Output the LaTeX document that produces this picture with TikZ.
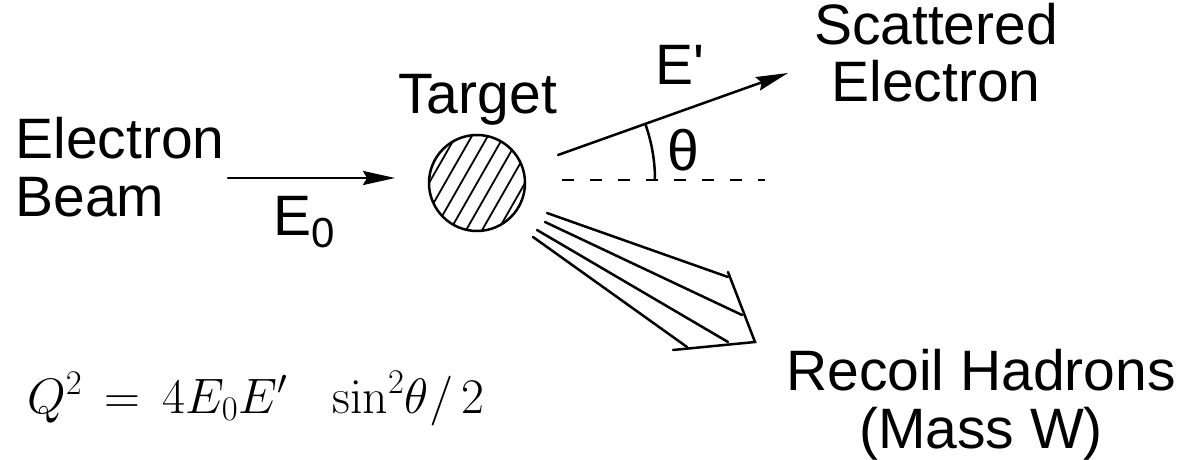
\documentclass[tikz,border=0pt]{standalone}
\usepackage[no-math]{fontspec}
\usepackage{amsmath}
\newfontfamily\disfont{Liberation Sans}
\usetikzlibrary{arrows.meta}
\tikzset{
  dislbl/.style={font=\disfont\fontsize{28.5}{28.8}\selectfont,inner sep=0pt,align=center},
  disline/.style={line width=1.25pt,line cap=round},
  disflow/.style={disline,-{Stealth[length=16pt,width=7pt,inset=2pt]}},
  disdash/.style={line width=1.25pt,dash pattern=on 6pt off 8pt},
  dishatch/.style={line width=0.9pt},
}

\begin{document}
\begin{tikzpicture}[x=0.5pt,y=-0.5pt]
  \useasboundingbox[fill=white] (0,0) rectangle (1183,460);

  % labels (multi-line nodes sit on the baseline of their last line)
  \node[dislbl,align=left,anchor=base west] (beamlbl) at (15,216) {Electron\\Beam};
  \node[dislbl,anchor=base west] (E0) at (273,235) {E\raisebox{-6pt}{\fontsize{21}{21}\selectfont 0}};
  \node[dislbl,anchor=base west] (tgtlbl) at (398,113) {Target};
  \node[dislbl,anchor=base west] (Ep) at (655,85) {E'};
  \node[dislbl] (theta) at (683,150) {θ};
  \node[dislbl,anchor=base] (scatlbl) at (936,102) {Scattered\\Electron};
  \node[dislbl,anchor=base] (hadlbl) at (981,448) {Recoil Hadrons\\(Mass W)};
  \node[anchor=base west,inner sep=0pt,font=\fontsize{23}{23}\selectfont] (Q2) at (27,413)
        {$Q^2 \,=\, 4E_0E'\hspace{18pt}\sin^2\!\theta/\,2$};

  % target
  \node[draw,circle,line width=1.25pt,minimum size=48pt,inner sep=0pt] (target) at (477,183) {};
  \begin{scope}
    \clip (target.center) circle [radius=48];
    \foreach \d in {-64,-48,...,64}{
      \draw[dishatch] (477+\d-40,253) -- (477+\d+40,113);}
  \end{scope}

  % beams
  \coordinate (beamA) at (228,178);
  \coordinate (beamB) at (395,178);
  \draw[disflow] (beamA) -- (beamB);

  \coordinate (vtx) at (488,180);
  \coordinate (eOut) at (558,155);
  \coordinate (eTip) at (788,73);
  \draw[disflow] (eOut) -- (eTip);
  \coordinate (dashA) at (562,180);
  \coordinate (dashB) at (765,180);
  \draw[disdash] (dashA) -- (dashB);
  \draw[disline] (vtx) ++(0:167) arc [start angle=0,end angle=-19.6,radius=167];

  % hadron jet
  \coordinate (hA) at (728,272);
  \coordinate (hTip) at (755,342);
  \coordinate (hB) at (673,350);
  \foreach \xa/\ya/\xb/\yb in {547/213/728/277,545/222/742/315,537/230/728/342,533/237/687/347}{
    \draw[disline] (\xa,\ya) -- (\xb,\yb);}
  \draw[disline,line join=miter] (hA) -- (hTip) -- (hB);
\end{tikzpicture}
\end{document}
